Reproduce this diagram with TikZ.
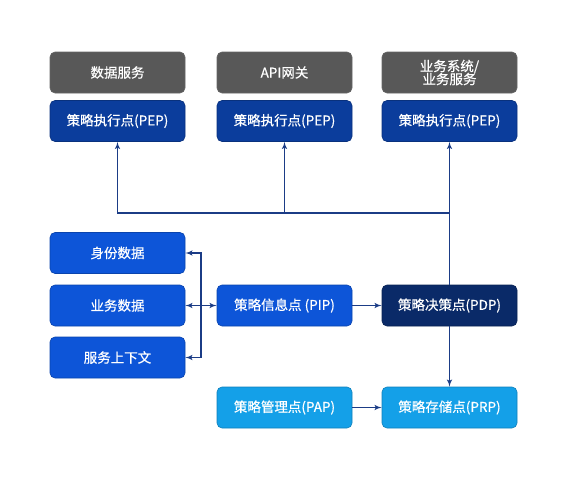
\documentclass[tikz,border=0pt]{standalone}
\usepackage{fontspec}
\setmainfont{Noto Sans CJK SC}[UprightFeatures={FakeBold=0.5}]
\usetikzlibrary{arrows}
\definecolor{gsvc}{HTML}{585858}
\definecolor{pep}{HTML}{0B3D9C}
\definecolor{info}{HTML}{0D55D8}
\definecolor{pdp}{HTML}{0A2A68}
\definecolor{store}{HTML}{14A0E8}
\definecolor{wire}{HTML}{1B3C86}
\begin{document}
\begin{tikzpicture}[x=1pt,y=-1pt]

\tikzset{box/.style = {shape=rectangle,rounded corners=5pt,draw=black!60,line width=0.6pt,minimum width=135pt,minimum height=41pt,inner sep=0pt,text=white,font=\fontsize{13.5}{15}\selectfont,align=center}}
\tikzset{edge/.style = {->,> = latex',draw=wire,line width=1.5pt}}

\useasboundingbox (0,0) rectangle (574,483);

%vertex

\node[box, fill=gsvc] (s1) at (117.5,72.5) {数据服务};
\node[box, fill=gsvc] (s2) at (284.5,72.5) {API网关};
\node[box, fill=gsvc] (s3) at (449.5,72.5) {业务系统/\\[-2pt]业务服务};

\node[box, fill=pep, draw=pep!80!black] (p1) at (117.5,121) {策略执行点(PEP)};
\node[box, fill=pep, draw=pep!80!black] (p2) at (284.5,121) {策略执行点(PEP)};
\node[box, fill=pep, draw=pep!80!black] (p3) at (449.5,121) {策略执行点(PEP)};

\node[box, fill=info, draw=info!80!black] (i1) at (117.5,253) {身份数据};
\node[box, fill=info, draw=info!80!black] (i2) at (117.5,305.5) {业务数据};
\node[box, fill=info, draw=info!80!black] (i3) at (117.5,357.5) {服务上下文};

\node[box, fill=info, draw=info!80!black] (pip) at (284.5,305.5) {策略信息点 (PIP)};
\node[box, fill=pdp, draw=pdp!80!black] (pdp) at (449.5,305.5) {策略决策点(PDP)};

\node[box, fill=store, draw=store!80!black] (pap) at (284.5,407.5) {策略管理点(PAP)};
\node[box, fill=store, draw=store!80!black] (prp) at (449.5,407.5) {策略存储点(PRP)};

\coordinate (bus) at (0,213);
\coordinate (br) at (201,305.5);

%edges

\draw[edge,-] (pdp.north) to (pdp.north |- bus);
\draw[edge] (pdp.north |- bus) to (p3);
\draw[edge] (pdp.north |- bus) -| (p2);
\draw[edge] (pdp.north |- bus) -| (p1);

\draw[edge] (br) |- (i1);
\draw[edge] (br) to (i2);
\draw[edge] (br) |- (i3);
\draw[edge] (br) to (pip);

\draw[edge] (pip) to (pdp);
\draw[edge] (pdp) to (prp);
\draw[edge] (pap) to (prp);

\end{tikzpicture}
\end{document}
